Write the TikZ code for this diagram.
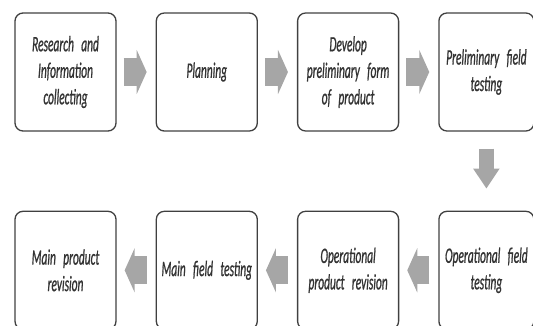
\documentclass[tikz,border=0pt]{standalone}
\usepackage{fontspec}
\newfontfamily\stepfont{Carlito}[FakeStretch=0.52, FakeBold=0.8, WordSpace=0.6]
\usepackage{tikz}
\usetikzlibrary{arrows.meta,positioning}

\begin{document}
\begin{tikzpicture}[
  x=1pt, y=1pt,
  font=\stepfont\itshape\fontsize{22}{26.5}\selectfont,
  node distance=39pt,
  box/.style={draw=black!75, line width=1.3pt, rounded corners=8pt, align=center,
              text width=99pt, minimum width=101pt, minimum height=118pt,
              inner sep=1pt, text=black!80},
  endbox/.style={box, text width=93pt, minimum width=95pt},
  flow/.style={black!35, line width=28pt,
               -{Triangle[length=10pt 0 0, width=44pt 0 0]},
               shorten <=7pt, shorten >=9pt},
  sink/.style={black!35, line width=15pt,
               -{Triangle[length=20pt 0 0, width=25pt 0 0]},
               shorten <=17pt, shorten >=22pt}
]
\useasboundingbox (0,0) rectangle (533,-325);
% top row, left to right
\node[box] (res) at (65.5,-72) {Research and\\ Information\\ collecting};
\node[box, right=of res] (plan) {Planning};
\node[box, right=of plan] (dev) {Develop\\ preliminary form\\ of product};
\node[endbox, right=of dev] (prefield) {Preliminary field\\ testing};
% bottom row, right to left
\node[endbox, below=79pt of prefield] (opfield) {Operational field\\ testing};
\node[box, below=79pt of dev] (oprev) {Operational\\ product revision};
\node[box, below=79pt of plan] (mainfield) {Main field testing};
\node[box, below=79pt of res] (mainrev) {Main product\\ revision};
\draw[flow] (res) -- (plan);
\draw[flow] (plan) -- (dev);
\draw[flow] (dev) -- (prefield);
\draw[sink] (prefield) -- (opfield);
\draw[flow, shorten <=9pt, shorten >=8pt] (opfield) -- (oprev);
\draw[flow, shorten <=9pt, shorten >=8pt] (oprev) -- (mainfield);
\draw[flow, shorten <=9pt, shorten >=8pt] (mainfield) -- (mainrev);
\end{tikzpicture}
\end{document}
